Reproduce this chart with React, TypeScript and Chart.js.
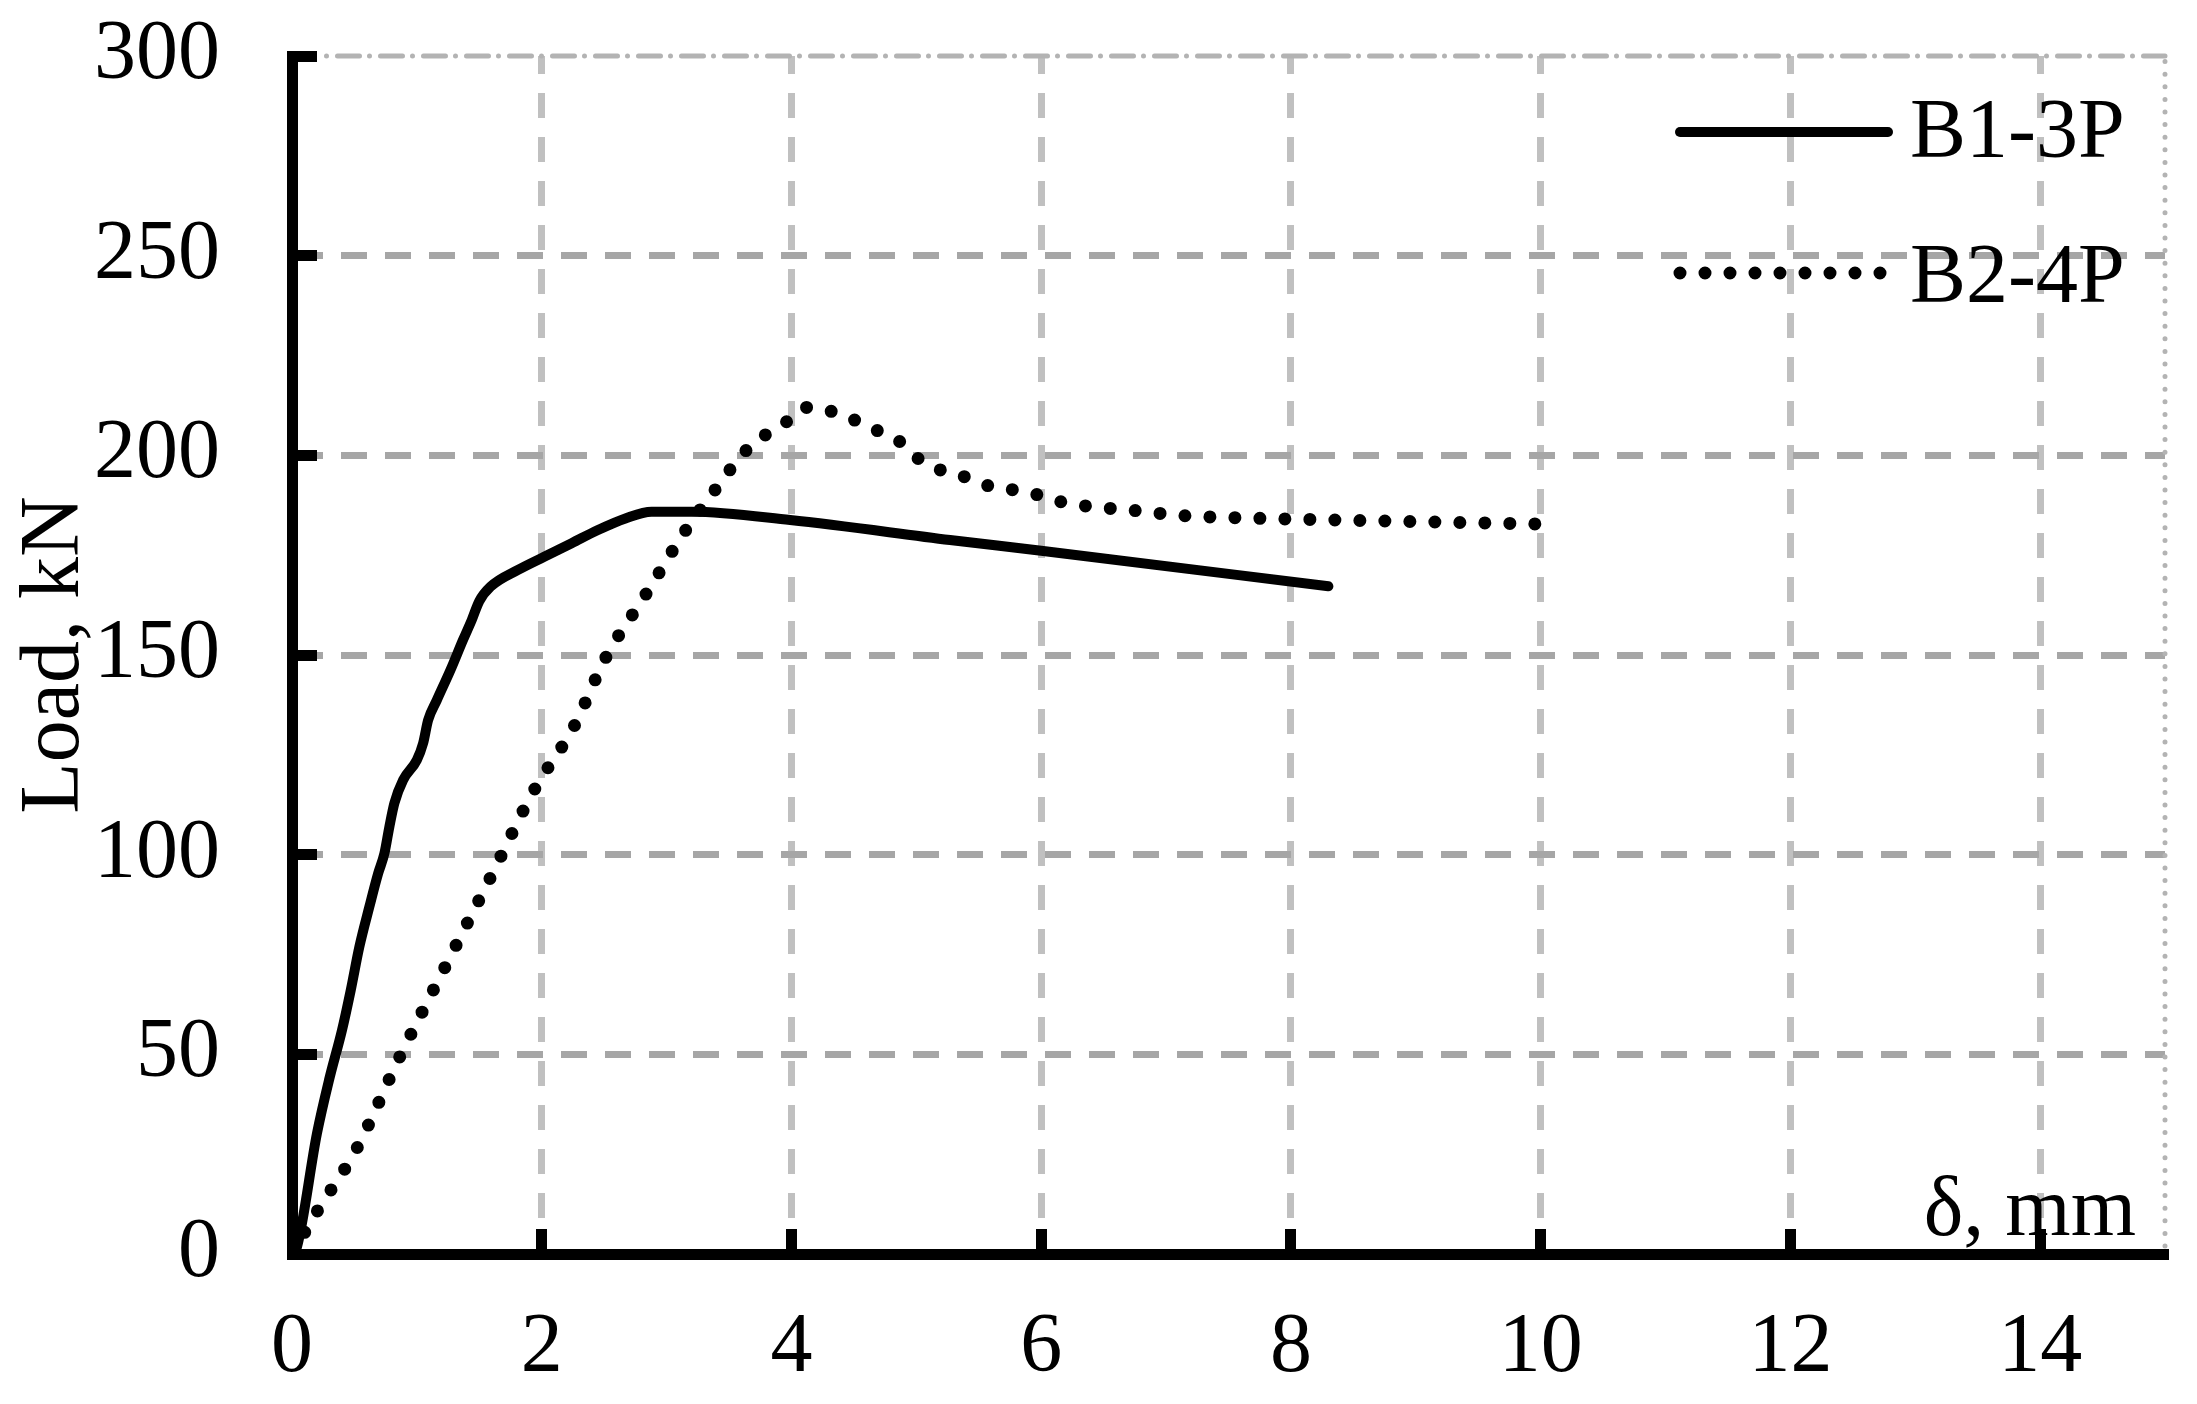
import React, { useEffect, useRef } from 'react';
import { Chart, registerables } from 'chart.js';

Chart.register(...registerables);

// ---- data ----
const seriesNames = ['B1-3P', 'B2-4P'];

const b1X = [0, 0.04, 0.2, 0.3, 0.4, 0.47, 0.54, 0.62, 0.69, 0.74, 0.78, 0.82, 0.89, 1.0, 1.05, 1.09, 1.16, 1.27, 1.37, 1.44, 1.5, 1.59, 1.81, 2.02, 2.24, 2.45, 2.67, 2.88, 3.2, 3.99, 5.27, 6.0, 8.3];
const b1Y = [0, 1.8, 30.2, 44.0, 56.0, 66.0, 77.0, 87.0, 95.3, 100.3, 107.0, 112.9, 118.7, 123.7, 127.9, 133.7, 138.7, 146.3, 153.8, 158.8, 163.5, 167.1, 171.3, 174.6, 178.0, 181.3, 184.2, 185.9, 185.9, 183.8, 178.8, 176.1, 167.2];

const b2X = [0, 0.2, 0.52, 0.86, 1.22, 1.58, 1.94, 2.26, 2.51, 2.83, 3.15, 3.38, 3.63, 3.79, 3.96, 4.12, 4.31, 4.5, 4.68, 4.86, 5.01, 5.18, 5.37, 5.55, 5.75, 5.95, 6.14, 6.34, 6.74, 7.14, 7.54, 7.93, 9.0, 10.0];
const b2Y = [0, 10.6, 26.5, 49.2, 71.5, 93.7, 116.2, 132.2, 149.2, 165.0, 181.1, 191.0, 201.0, 205.1, 208.4, 212.0, 211.1, 208.9, 206.3, 203.6, 199.3, 196.5, 194.8, 192.6, 191.5, 190.3, 188.5, 187.4, 186.2, 184.9, 184.4, 184.1, 183.4, 182.8];

const xTicks = [0, 2, 4, 6, 8, 10, 12, 14];
const yTicks = [0, 50, 100, 150, 200, 250, 300];
const xTitle = 'δ, mm';
const yTitle = 'Load, kN';

const FONT = '"Liberation Serif", "Times New Roman", Times, serif';
const FS = 84;

const decorPlugin = {
  id: 'decor',
  beforeDatasetsDraw(chart: any) {
    const { ctx, chartArea: a, scales } = chart;
    const x = scales.x;
    const y = scales.y;
    ctx.save();
    ctx.strokeStyle = '#b3b3b3';
    ctx.lineCap = 'round';
    // top border (dash-dot)
    ctx.lineWidth = 5;
    const yTop = y.getPixelForValue(y.max);
    ctx.setLineDash([22, 10, 0, 11]);
    ctx.lineDashOffset = 22.5;
    ctx.beginPath();
    ctx.moveTo(a.left + 25, yTop);
    ctx.lineTo(a.right, yTop);
    ctx.stroke();
    // right border (dotted)
    const xr = x.getPixelForValue(x.max);
    ctx.setLineDash([0, 12.6]);
    ctx.lineDashOffset = 0;
    ctx.beginPath();
    ctx.moveTo(xr, a.bottom - 8);
    ctx.lineTo(xr, a.top);
    ctx.stroke();
    ctx.restore();
  },
  afterDraw(chart: any) {
    const { ctx } = chart;
    ctx.save();
    ctx.font = `${FS}px ${FONT}`;
    ctx.fillStyle = '#000';
    ctx.textBaseline = 'alphabetic';
    ctx.textAlign = 'left';
    const rows = [
      { ly: 132, ty: 157 },
      { ly: 273, ty: 302 },
    ];
    chart.data.datasets.forEach((ds: any, i: number) => {
      const r = rows[i];
      ctx.strokeStyle = ds.borderColor;
      ctx.lineWidth = ds.borderWidth;
      ctx.lineCap = 'round';
      ctx.setLineDash(ds.borderDash || []);
      ctx.beginPath();
      ctx.moveTo(1680, r.ly);
      ctx.lineTo(ds.borderDash ? 1881 : 1888, r.ly);
      ctx.stroke();
      ctx.fillText(ds.label, 1910, r.ty);
    });
    ctx.setLineDash([]);
    ctx.textAlign = 'right';
    ctx.fillText(xTitle, 2136, 1235);
    ctx.restore();
  },
};

export default function App() {
  const ref = useRef<HTMLCanvasElement | null>(null);

  useEffect(() => {
    const canvas = ref.current;
    if (!canvas) return;
    const chart = new Chart(canvas, {
      type: 'line',
      data: {
        datasets: [
          {
            label: seriesNames[0],
            data: b1X.map((v, i) => ({ x: v, y: b1Y[i] })),
            borderColor: '#000000',
            backgroundColor: '#000000',
            borderWidth: 10,
            borderCapStyle: 'round',
            borderJoinStyle: 'round',
            pointRadius: 0,
            cubicInterpolationMode: 'monotone',
            fill: false,
          },
          {
            label: seriesNames[1],
            data: b2X.map((v, i) => ({ x: v, y: b2Y[i] })),
            borderColor: '#000000',
            backgroundColor: '#000000',
            borderWidth: 13,
            borderDash: [0, 25],
            borderCapStyle: 'round',
            borderJoinStyle: 'round',
            pointRadius: 0,
            cubicInterpolationMode: 'monotone',
            fill: false,
          },
        ],
      },
      options: {
        animation: false,
        responsive: false,
        devicePixelRatio: 1,
        layout: { padding: { left: 0, top: 56, right: 32, bottom: 0 } },
        plugins: {
          legend: { display: false },
          tooltip: { enabled: false },
        },
        scales: {
          x: {
            type: 'linear',
            min: 0,
            max: 15,
            afterFit: (s: any) => {
              s.height = 150;
              s.paddingLeft = 0;
              s.paddingRight = 0;
              s.paddingTop = 0;
              s.paddingBottom = 0;
            },
            afterBuildTicks: (s: any) => {
              s.ticks = xTicks.map((v) => ({ value: v }));
            },
            ticks: {
              stepSize: 2,
              includeBounds: false,
              autoSkip: false,
              maxRotation: 0,
              padding: 70,
              color: '#000',
              font: { family: FONT, size: FS },
            },
            grid: {
              color: '#c0c0c0',
              lineWidth: 7,
              tickColor: '#000',
              tickWidth: 11,
              tickLength: -25,
              tickBorderDash: [],
            },
            border: {
              display: true,
              color: '#000',
              width: 11,
              dash: [25, 19],
              dashOffset: 7,
            },
          },
          y: {
            type: 'linear',
            min: 0,
            max: 300,
            afterFit: (s: any) => {
              s.width = 292;
              s.paddingLeft = 0;
              s.paddingRight = 0;
              s.paddingTop = 0;
              s.paddingBottom = 0;
            },
            afterBuildTicks: (s: any) => {
              s.ticks = yTicks.map((v) => ({ value: v }));
            },
            ticks: {
              stepSize: 50,
              autoSkip: false,
              padding: 97,
              color: '#000',
              font: { family: FONT, size: FS },
            },
            title: {
              display: true,
              text: yTitle,
              color: '#000',
              font: { family: FONT, size: FS },
              padding: { top: 6, bottom: 0 },
            },
            grid: {
              color: (c: any) => (c.tick && c.tick.value === 300 ? 'rgba(0,0,0,0)' : '#a6a6a6'),
              lineWidth: 7,
              tickColor: '#000',
              tickWidth: 11,
              tickLength: -25,
              tickBorderDash: [],
            },
            border: {
              display: true,
              color: '#000',
              width: 11,
              dash: [26, 18],
              dashOffset: 1,
            },
          },
        },
      },
      plugins: [decorPlugin],
    } as any);
    return () => chart.destroy();
  }, []);

  return (
    <div style={{ position: 'fixed', left: 0, top: 0, width: 2197, height: 1404, background: '#fff' }}>
      <canvas ref={ref} width={2197} height={1404} style={{ width: 2197, height: 1404, display: 'block' }} />
    </div>
  );
}
